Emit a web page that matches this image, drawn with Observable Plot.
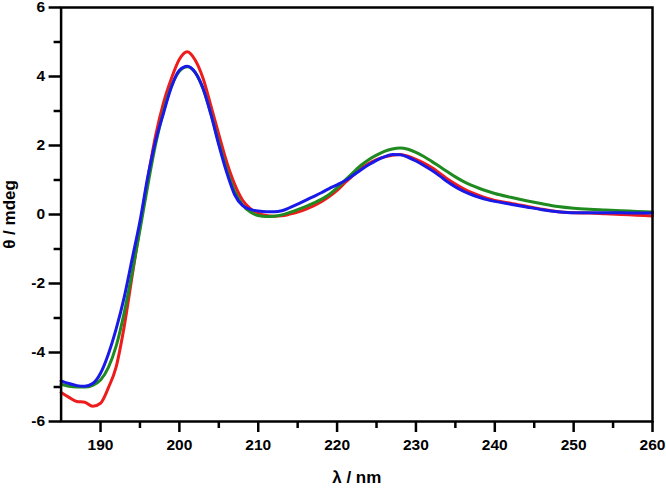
<!DOCTYPE html>
<html>
<head>
<meta charset="utf-8">
<script src="https://cdn.jsdelivr.net/npm/d3@7"></script>
<script src="https://cdn.jsdelivr.net/npm/@observablehq/plot@0.6"></script>
<style>
  html, body { margin: 0; padding: 0; background: white; }
  #chart svg text { font-family: 'Liberation Sans', Arial, sans-serif; font-weight: bold; }
  #chart svg [aria-label$="tick label"] text { font-size: 15.5px; }
  #chart svg [aria-label$="label"]:not([aria-label$="tick label"]) text { font-size: 17px; }
</style>
</head>
<body>
<div id="chart"></div>
<script>
const lambda = [185,186,187,188,189,190,191,192,193,194,195,196,197,198,199,200,201,202,203,204,205,206,207,208,209,210,211,212,213,214,215,216,217,218,219,220,221,222,223,224,225,226,227,228,229,230,231,232,233,234,235,236,237,238,239,240,242,244,246,248,250,252,254,256,258,260];

const redTheta = [-5.16,-5.30,-5.42,-5.44,-5.56,-5.47,-5.02,-4.40,-3.25,-1.80,-0.35,1.05,2.30,3.25,3.95,4.50,4.72,4.48,3.95,3.15,2.32,1.52,0.88,0.42,0.17,0.04,-0.03,-0.05,-0.04,0.01,0.07,0.15,0.25,0.37,0.52,0.70,0.92,1.13,1.33,1.48,1.59,1.67,1.72,1.74,1.69,1.60,1.49,1.36,1.20,1.03,0.88,0.75,0.64,0.55,0.47,0.41,0.33,0.24,0.15,0.08,0.05,0.04,0.02,0.00,-0.02,-0.04];

const greenTheta = [-4.92,-4.98,-5.00,-5.00,-4.95,-4.80,-4.43,-3.80,-2.85,-1.70,-0.45,0.85,2.05,3.00,3.72,4.15,4.28,4.12,3.65,2.92,2.08,1.30,0.68,0.28,0.07,-0.03,-0.06,-0.05,-0.01,0.06,0.14,0.23,0.33,0.44,0.58,0.77,0.99,1.21,1.42,1.59,1.72,1.83,1.90,1.93,1.89,1.80,1.68,1.54,1.39,1.24,1.09,0.96,0.85,0.76,0.68,0.61,0.50,0.40,0.31,0.23,0.18,0.15,0.13,0.11,0.09,0.07];

const blueTheta = [-4.82,-4.90,-4.96,-4.98,-4.90,-4.60,-4.04,-3.30,-2.40,-1.30,-0.20,1.10,2.15,2.95,3.70,4.18,4.30,4.12,3.65,2.90,2.02,1.22,0.58,0.26,0.15,0.10,0.08,0.08,0.11,0.20,0.30,0.41,0.52,0.63,0.75,0.86,0.98,1.13,1.29,1.44,1.57,1.67,1.74,1.73,1.66,1.55,1.42,1.28,1.12,0.95,0.80,0.68,0.58,0.50,0.43,0.38,0.30,0.22,0.14,0.08,0.05,0.05,0.05,0.05,0.04,0.04];

const xTicks = [190,200,210,220,230,240,250,260];
const xMinorTicks = [195,205,215,225,235,245,255];
const yTicks = [-6,-4,-2,0,2,4,6];
const yMinorTicks = [-5,-3,-1,1,3,5];

const seriesColors = {red: "#ee1c1c", green: "#1f8a1f", blue: "#1a1ae8"};

const plot = Plot.plot({
  width: 666,
  height: 488,
  marginLeft: 60.6,
  marginRight: 14,
  marginTop: 7,
  marginBottom: 67,
  x: {domain: [185, 260]},
  y: {domain: [-6, 6]},
  style: {fontFamily: "'Liberation Sans', Arial, sans-serif", fontSize: "15.5px", fontWeight: "bold", color: "black", background: "white", overflow: "visible"},
  marks: [
    Plot.axisX(xTicks, {tickSize: 11, tickPadding: 6, strokeWidth: 2.5, fontSize: 15.5, fontWeight: "bold", tickFormat: d => String(d), label: "λ / nm", labelAnchor: "center", labelArrow: "none", labelOffset: 61}),
    Plot.axisX(xMinorTicks, {tickSize: 7, strokeWidth: 2.5, tickFormat: () => "", label: null}),
    Plot.axisY(yTicks, {tickSize: 12, tickPadding: 4, strokeWidth: 2.5, fontSize: 15.5, fontWeight: "bold", tickFormat: d => String(d), label: "θ / mdeg", labelAnchor: "center", labelArrow: "none", labelOffset: 58}),
    Plot.axisY(yMinorTicks, {tickSize: 7, strokeWidth: 2.5, tickFormat: () => "", label: null}),
    Plot.line(lambda, {x: d => d, y: (d, i) => redTheta[i], stroke: seriesColors.red, strokeWidth: 3, curve: "monotone-x"}),
    Plot.line(lambda, {x: d => d, y: (d, i) => greenTheta[i], stroke: seriesColors.green, strokeWidth: 3, curve: "monotone-x"}),
    Plot.line(lambda, {x: d => d, y: (d, i) => blueTheta[i], stroke: seriesColors.blue, strokeWidth: 3, curve: "monotone-x"}),
    Plot.frame({stroke: "black", strokeWidth: 2.5})
  ]
});
document.getElementById("chart").appendChild(plot);
</script>
</body>
</html>
